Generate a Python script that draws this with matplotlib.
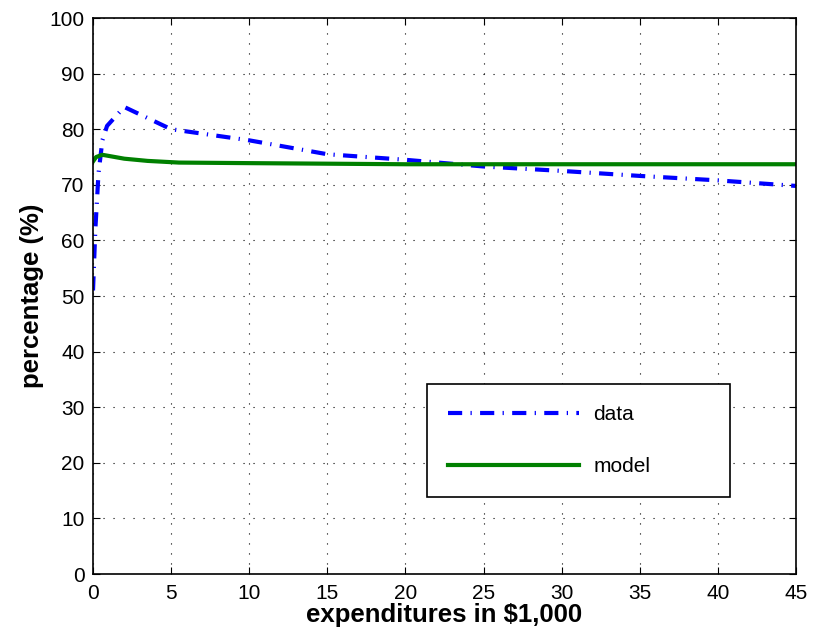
import matplotlib
matplotlib.use("Agg")
import matplotlib.pyplot as plt

plt.rcParams['font.family'] = ['Liberation Sans', 'DejaVu Sans']

# --- DATA ---
data_x = [0, 0.15, 0.35, 0.6, 0.9, 2.0, 5.0, 10, 15, 20, 25, 30, 35, 40, 45]
data_y = [51, 62, 72, 78, 80.6, 84, 80, 78, 75.5, 74.5, 73.3, 72.5, 71.6, 70.8, 69.8]
model_x = [0, 0.2, 0.6, 1.0, 2.0, 3.5, 5.5, 10, 15, 20, 30, 45]
model_y = [74.2, 75.0, 75.4, 75.2, 74.7, 74.3, 74.0, 73.9, 73.8, 73.7, 73.7, 73.7]

fig = plt.figure(figsize=(8.13, 6.39), dpi=100)
ax = fig.add_axes([0.1144, 0.1017, 0.8647, 0.8701])

ax.plot(data_x, data_y, color='blue', linestyle=(0, (3.4, 2.0, 0.3, 2.0)), linewidth=3, label='data')
ax.plot(model_x, model_y, color='green', linewidth=3, label='model')

ax.set_xlim(0, 45)
ax.set_ylim(0, 100)
ax.set_xticks(range(0, 46, 5))
ax.set_yticks(range(0, 101, 10))
ax.tick_params(direction='in', labelsize=15, length=5, top=True, right=True)
ax.tick_params(axis='x', pad=7)
ax.tick_params(axis='y', pad=6)
ax.grid(True, color='black', linestyle=(0, (1, 8)), linewidth=0.8)

ax.set_xlabel('expenditures in $1,000', fontsize=18.5, fontweight='bold', labelpad=0)
ax.set_ylabel('percentage (%)', fontsize=18.5, fontweight='bold', labelpad=4)

leg = ax.legend(loc='lower left', bbox_to_anchor=(0.475, 0.138, 0.431, 0.207), mode='expand',
                borderaxespad=0, fontsize=15, fancybox=False, framealpha=1, edgecolor='black',
                handlelength=6.3, handletextpad=0.7, labelspacing=1.6, borderpad=1.0)
leg.get_frame().set_linewidth(1.2)

for s in ax.spines.values():
    s.set_linewidth(1.2)

fig.savefig('out.png', dpi=100)
